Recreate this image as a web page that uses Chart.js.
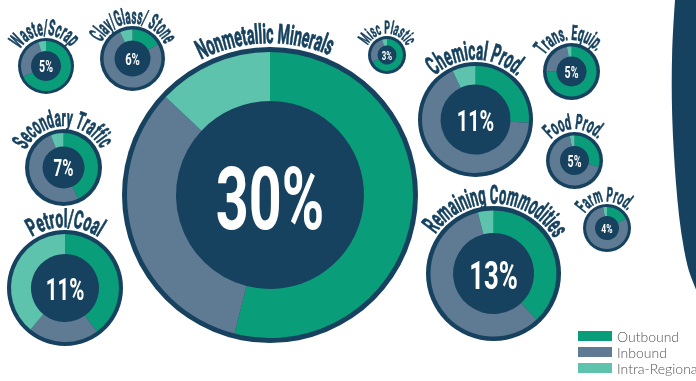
<!DOCTYPE html>
<html>
<head>
<meta charset="utf-8">
<script src="https://cdn.jsdelivr.net/npm/chart.js@4"></script>
<style>
  html, body { margin: 0; padding: 0; background: #fff; }
  #stage { position: relative; width: 696px; height: 381px; overflow: hidden; }
  #stage canvas { position: absolute; }
  #legend { position: absolute; left: 578px; top: 328px; font-family: Lato, sans-serif; font-weight: 300; font-size: 14px; color: #555; }
  #legend div { height: 16px; display: flex; align-items: center; white-space: nowrap; }
  #legend .box { width: 34px; height: 10px; margin-right: 5px; }
</style>
</head>
<body>
<div id="stage">
  <canvas id="bg" width="696" height="381" style="left:0;top:0"></canvas>
  <div id="legend"></div>
</div>
<script>
// share of total flows by commodity group, split by direction
const categories = ['Nonmetallic Minerals', 'Waste/Scrap', 'Clay/Glass/ Stone', 'Secondary Traffic', 'Petrol/Coal',
  'Misc Plastic', 'Chemical Prod.', 'Trans. Equip.', 'Food Prod.', 'Remaining Commodities', 'Farm Prod.'];
const shares = [30, 5, 6, 7, 11, 3, 11, 5, 5, 13, 4];
const outbound = [54, 68, 17, 43, 40, 68, 26, 75, 29, 38, 18];
const inbound = [33, 27, 76, 51, 21, 27, 67, 22, 68, 58, 79];
const intraRegional = [13, 5, 7, 6, 39, 5, 7, 3, 3, 4, 3];
const seriesNames = ['Outbound', 'Inbound', 'Intra-Regional'];

const colors = ['#0a9d7a', '#5f7b94', '#5dc3ad'];
const navy = '#17425f';

// placement of each ring: cx, cy, outer radius (with border), border, hole radius,
// title size, title radius, title start/end angle, centre label size
const spots = [
  [270, 195, 148, 5, 94, 27, 152, -27, 23, 87],
  [46, 66, 28, 3, 15, 22, 31, -58, 52, 16],
  [132.5, 58, 32.5, 3.5, 18, 22, 35, -63, 66, 17],
  [63, 167, 38.5, 4, 21, 24, 41.5, -65, 62, 23],
  [65, 287.5, 58, 4, 34, 25, 61, -33, 33, 31],
  [387, 55, 19, 3, 9.5, 18, 21.5, -64, 65, 12],
  [475.7, 119, 57.5, 4, 35, 26, 60, -43, 44, 30],
  [571.7, 71.5, 28.5, 3.5, 15, 21, 31.5, -59, 50, 16],
  [574.7, 160, 28.5, 3.5, 14.5, 21, 31.5, -48, 47, 16],
  [493.3, 273.7, 67.5, 4.5, 40.5, 26, 70, -56, 60, 39],
  [607, 228, 24, 3, 12, 20, 26.5, -57, 49, 13]
];

const FONT = 'Roboto, "DejaVu Sans", sans-serif';

function arcText(ctx, text, cx, cy, r, size, from, to) {
  ctx.save();
  ctx.font = 'bold ' + size + 'px ' + FONT;
  ctx.fillStyle = navy;
  ctx.strokeStyle = navy;
  ctx.lineWidth = size * 0.03;
  ctx.textAlign = 'center';
  ctx.textBaseline = 'alphabetic';
  const w = ctx.measureText(text).width;
  const span = (to - from) * Math.PI / 180;
  const sx = span * r / w;
  let acc = 0;
  for (const ch of text) {
    const cw = ctx.measureText(ch).width;
    const a = from * Math.PI / 180 + (acc + cw / 2) * sx / r;
    ctx.save();
    ctx.translate(cx, cy);
    ctx.rotate(a);
    ctx.translate(0, -r);
    ctx.scale(sx, 1);
    ctx.fillText(ch, 0, 0);
    ctx.strokeText(ch, 0, 0);
    ctx.restore();
    acc += cw;
  }
  ctx.restore();
}

const ringDecor = {
  id: 'ringDecor',
  beforeDatasetsDraw(chart) {
    const s = chart.options.plugins.ringDecor;
    const arc = chart.getDatasetMeta(0).data[0];
    const ctx = chart.ctx;
    ctx.save();
    ctx.fillStyle = navy;
    ctx.beginPath();
    ctx.arc(arc.x, arc.y, arc.outerRadius + s.border, 0, Math.PI * 2);
    ctx.fill();
    ctx.restore();
  },
  afterDatasetsDraw(chart) {
    const s = chart.options.plugins.ringDecor;
    const arc = chart.getDatasetMeta(0).data[0];
    const ctx = chart.ctx;
    ctx.save();
    ctx.font = 'bold ' + s.labelSize + 'px ' + FONT;
    ctx.fillStyle = '#fff';
    ctx.textAlign = 'center';
    ctx.textBaseline = 'alphabetic';
    ctx.translate(arc.x, arc.y + s.labelSize * 0.711 / 2 + s.labelSize * 0.03);
    ctx.scale(0.66, 1);
    ctx.fillText(s.label, 0, 0);
    ctx.restore();
    arcText(ctx, s.title, arc.x, arc.y, s.titleR, s.titleSize, s.from, s.to);
  }
};

const stage = document.getElementById('stage');
categories.forEach((name, i) => {
  const [cx, cy, ro, border, hole, titleSize, titleR, from, to, labelSize] = spots[i];
  const size = Math.ceil(2 * (ro + 38));
  const cv = document.createElement('canvas');
  cv.width = size;
  cv.height = size;
  cv.style.left = (cx - size / 2) + 'px';
  cv.style.top = (cy - size / 2) + 'px';
  stage.insertBefore(cv, document.getElementById('legend'));
  new Chart(cv, {
    type: 'doughnut',
    data: {
      labels: seriesNames,
      datasets: [{
        data: [outbound[i], inbound[i], intraRegional[i]],
        backgroundColor: colors,
        borderWidth: 0
      }]
    },
    options: {
      responsive: false,
      animation: false,
      events: [],
      radius: ro - border,
      cutout: (hole / (ro - border) * 100) + '%',
      plugins: {
        legend: { display: false },
        tooltip: { enabled: false },
        ringDecor: { border, title: name, label: shares[i] + '%', labelSize, titleSize, titleR, from, to }
      }
    },
    plugins: [ringDecor]
  });
});

// navy swoosh at the right edge
const bg = document.getElementById('bg').getContext('2d');
const edge = [[675, 0], [672.7, 33], [671.7, 67], [671.7, 100], [672.7, 133], [674.7, 167], [677.3, 200],
  [681, 233], [687.3, 267], [693.3, 283], [697, 292]];
bg.fillStyle = navy;
bg.beginPath();
bg.moveTo(700, 0);
bg.lineTo(edge[0][0], edge[0][1]);
for (let k = 1; k < edge.length - 1; k++) {
  const mx = (edge[k][0] + edge[k + 1][0]) / 2, my = (edge[k][1] + edge[k + 1][1]) / 2;
  bg.quadraticCurveTo(edge[k][0], edge[k][1], mx, my);
}
bg.lineTo(edge[edge.length - 1][0], edge[edge.length - 1][1]);
bg.lineTo(700, 292);
bg.closePath();
bg.fill();

// legend
const legend = document.getElementById('legend');
seriesNames.forEach((n, k) => {
  const row = document.createElement('div');
  row.innerHTML = '<span class="box" style="background:' + colors[k] + '"></span>' + n;
  legend.appendChild(row);
});
</script>
</body>
</html>
